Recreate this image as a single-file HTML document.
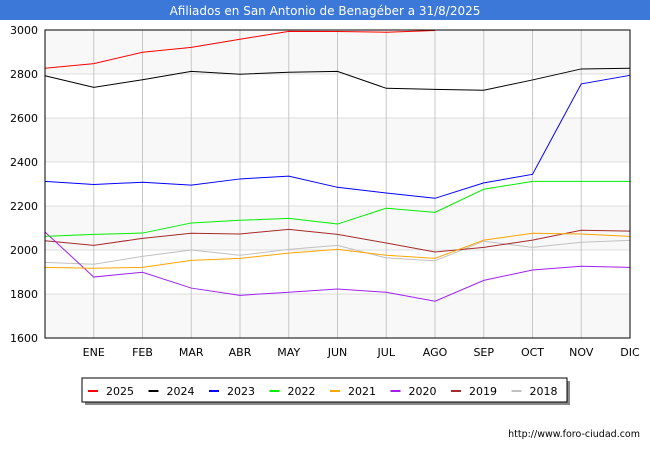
<!DOCTYPE html>
<html><head><meta charset="utf-8"><style>
body{margin:0;width:650px;height:450px;background:#fff;font-family:"DejaVu Sans",sans-serif;overflow:hidden}
</style></head><body>
<svg width="650" height="450" xmlns="http://www.w3.org/2000/svg" font-family="DejaVu Sans, sans-serif">
<rect x="0" y="0" width="650" height="20" fill="#3b78d8"/>
<text x="325" y="15" fill="#fff" font-size="12" text-anchor="middle">Afiliados en San Antonio de Benagéber a 31/8/2025</text>
<g id="grid"></g>
<g id="series"></g>
<rect x="45" y="30" width="585" height="308" fill="none" stroke="#000" stroke-width="1"/>
<g id="axes" font-size="11" fill="#000"></g>
<rect x="85" y="381" width="485" height="24" fill="#888"/>
<rect x="82" y="378" width="485" height="24" fill="#fff" stroke="#000"/>
<g id="legend" font-size="11"></g>
<text x="640" y="437" font-size="9.5" text-anchor="end">http://www.foro-ciudad.com</text>
</svg>
<script>
const months=["","ENE","FEB","MAR","ABR","MAY","JUN","JUL","AGO","SEP","OCT","NOV","DIC"];
const yTicks=[1600,1800,2000,2200,2400,2600,2800,3000];
const seriesNames=["2025","2024","2023","2022","2021","2020","2019","2018"];
const seriesColors=["#ff0000","#000000","#0000ff","#00ee00","#ffa500","#a020f0","#a52a2a","#c0c0c0"];
const v2025=[2826,2847,2899,2921,2958,2994,2993,2990,2998];
const v2024=[2792,2739,2774,2812,2799,2808,2812,2735,2730,2726,2773,2823,2826];
const v2023=[2312,2298,2308,2295,2323,2336,2285,2259,2235,2305,2344,2755,2794];
const v2022=[2062,2071,2077,2123,2135,2144,2118,2190,2171,2276,2312,2312,2312];
const v2021=[1921,1917,1921,1953,1962,1986,2003,1976,1962,2045,2076,2073,2062];
const v2020=[2082,1877,1899,1827,1794,1808,1823,1808,1767,1862,1909,1926,1921];
const v2019=[2042,2021,2053,2076,2073,2094,2071,2032,1991,2012,2045,2090,2086];
const v2018=[1944,1935,1971,2000,1976,2003,2021,1964,1951,2040,2012,2035,2044];
const allSeries=[v2025,v2024,v2023,v2022,v2021,v2020,v2019,v2018];
const NS="http://www.w3.org/2000/svg";
const X0=45,X1=630,Y0=338,Y1=30;
const xs=i=>X0+i*(X1-X0)/12;
const ys=v=>Y0-(v-1600)*(Y0-Y1)/1400;
function mk(t,a){const e=document.createElementNS(NS,t);for(const k in a)e.setAttribute(k,a[k]);return e;}
const grid=document.getElementById('grid'),axes=document.getElementById('axes');
for(let i=0;i<yTicks.length-1;i++){
 if(i%2===0){const r=mk('rect',{x:X0,y:ys(yTicks[i+1]),width:X1-X0,height:ys(yTicks[i])-ys(yTicks[i+1]),fill:'#f8f8f8'});
 
 grid.appendChild(r);}
}
yTicks.forEach(t=>{
 const l=mk('line',{x1:X0,x2:X1,y1:ys(t),y2:ys(t),stroke:'#ddd'});
 
 grid.appendChild(l);
 const tx=mk('text',{x:38,y:ys(t)+4,'text-anchor':'end'});tx.textContent=t;
 
 axes.appendChild(tx);
});
months.forEach((m,i)=>{
 if(i>0){const l=mk('line',{x1:xs(i),x2:xs(i),y1:Y1,y2:Y0,stroke:'#c8c8c8'});
 
 grid.appendChild(l);}
 const tx=mk('text',{x:xs(i),y:356,'text-anchor':'middle'});tx.textContent=m;
 
 axes.appendChild(tx);
});
const sg=document.getElementById('series');
allSeries.slice().reverse().forEach((vals,ri)=>{
 const k=allSeries.length-1-ri;
 const p=mk('polyline',{points:vals.map((v,i)=>xs(i)+','+ys(v)).join(' '),fill:'none',stroke:seriesColors[k],'stroke-width':1});
 
 sg.appendChild(p);
});
const lg=document.getElementById('legend');
seriesNames.forEach((n,i)=>{
 const x=88+i*60.5;
 const l=mk('line',{x1:x,x2:x+10,y1:391,y2:391,stroke:seriesColors[i],'stroke-width':2});
 
 lg.appendChild(l);
 const t=mk('text',{x:x+18,y:395});t.textContent=n;
 
 lg.appendChild(t);
});
</script>
</body></html>
